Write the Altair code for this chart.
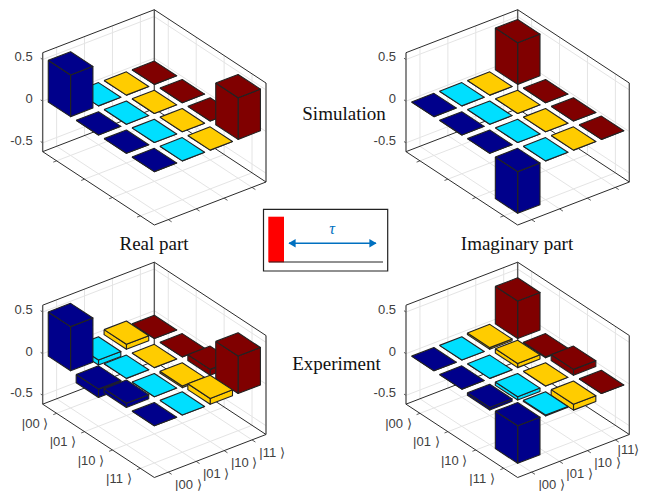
import altair as alt
import pandas as pd

# bar heights: rows |00>..|11>, columns |00>..|11>
real_sim = [[0.5, 0, 0, 0], [0, 0, 0, 0], [0, 0, 0, 0], [0, 0, 0, 0.5]]
imag_sim = [[0, 0, 0, 0.5], [0, 0, 0, 0], [0, 0, 0, 0], [-0.5, 0, 0, 0]]
real_exp = [[0.53, -0.06, 0.06, 0], [-0.1, 0, 0, 0], [0.05, 0, -0.02, 0.07], [0, 0, 0.07, 0.45]]
imag_exp = [[0, 0, 0.02, 0.45], [0, 0, 0.05, -0.01], [-0.03, -0.04, 0, 0.07], [-0.45, -0.01, -0.07, 0]]
column_colors = ["#00008b", "#00dfff", "#ffcc00", "#800000"]
ket_labels = ["|00 ⟩", "|01 ⟩", "|10 ⟩", "|11 ⟩"]
z_ticks = [0.5, 0, -0.5]
z_labels = ["0.5", "0", "-0.5"]
positions = [0.125, 0.375, 0.625, 0.875]
BAR = 0.2
ZMIN, ZMAX = -0.6056, 0.582


def projector(dx, dy, base=0.0):
    def p(a, b, z):
        return (128 / 3 + dx + (a * 335 + b * 335) / 3,
                (303.6 + a * 220 - b * 129 - (z + base) * 250) / 3 + dy)
    return p


panels = [
    (real_sim, 0, 0, 0.0, False),
    (imag_sim, 363.33, 0, 0.0, False),
    (real_exp, 0, 252.5, -0.02, True),
    (imag_exp, 363.33, 252.5, -0.02, True),
]

grid, dark, thick, ticks, polys = [], [], [], [], []
tick_txt, ket_txt = [], []
uid = 0


def add(rows, pts, **extra):
    global uid
    uid += 1
    for i, (x, y) in enumerate(pts):
        rows.append(dict(pid=uid, i=i, x=x, y=y, **extra))


for values, dx, dy, base, labelled in panels:
    p = projector(dx, dy)
    q = projector(dx, dy, base)
    for t in positions:
        add(grid, [p(0, t, ZMIN), p(0, t, ZMAX)])
        add(grid, [p(t, 1, ZMIN), p(t, 1, ZMAX)])
        add(grid, [p(t, 0, ZMIN), p(t, 1, ZMIN)])
        add(grid, [p(0, t, ZMIN), p(1, t, ZMIN)])
        add(ticks, [p(t, 0, ZMIN), p(t, -0.03, ZMIN)])
        add(ticks, [p(1, t, ZMIN), p(1.03, t, ZMIN)])
    for z, lab in zip(z_ticks, z_labels):
        add(grid, [p(0, 0, z), p(0, 1, z)])
        add(grid, [p(0, 1, z), p(1, 1, z)])
        add(ticks, [p(0, 0, z), p(-0.018, 0.0, z)])
        x, y = p(0, 0, z)
        tick_txt.append(dict(t=lab, x=x - 10, y=y - 2.2))
    add(dark, [p(0, 0, ZMAX), p(0, 1, ZMAX), p(1, 1, ZMAX)])
    add(dark, [p(0, 0, ZMIN), p(1, 0, ZMIN), p(1, 1, ZMIN)])
    add(dark, [p(0, 0, ZMIN), p(0, 1, ZMIN), p(1, 1, ZMIN)])
    add(thick, [p(0, 0, ZMIN), p(0, 0, ZMAX)])
    add(thick, [p(0, 1, ZMIN), p(0, 1, ZMAX)])
    add(thick, [p(1, 1, ZMIN), p(1, 1, ZMAX)])
    if labelled:
        for k, t in enumerate(positions):
            x, y = p(t, 0, ZMIN)
            ket_txt.append(dict(t=ket_labels[k], x=x - 21.6, y=y + 10.7))
            x, y = p(1, t, ZMIN)
            if x + 20 > 625:
                # the window ends at x = 640, so this label sits just inside it
                ket_txt.append(dict(t=ket_labels[k].replace(" ", ""), x=628.5, y=y + 10))
            else:
                ket_txt.append(dict(t=ket_labels[k], x=x + 20, y=y + 12.7))
    for r in range(4):
        for c in range(3, -1, -1):
            v = values[r][c]
            top, bot = max(v, 0), min(v, 0)
            a0, a1 = positions[r] - BAR / 2, positions[r] + BAR / 2
            b0, b1 = positions[c] - BAR / 2, positions[c] + BAR / 2
            col = column_colors[c]
            add(polys, [q(a1, b0, top), q(a1, b1, top), q(a1, b1, bot), q(a1, b0, bot), q(a1, b0, top)], fill=col)
            add(polys, [q(a0, b0, top), q(a1, b0, top), q(a1, b0, bot), q(a0, b0, bot), q(a0, b0, top)], fill=col)
            add(polys, [q(a0, b0, top), q(a0, b1, top), q(a1, b1, top), q(a1, b0, top), q(a0, b0, top)], fill=col)

X = alt.X("x:Q", scale=alt.Scale(domain=[8, 640], range=[0, 632]), axis=None)
Y = alt.Y("y:Q", scale=alt.Scale(domain=[491, 8], range=[483, 0]), axis=None)
ORDER = alt.Order("i:Q")


def lines(rows, color, width):
    return alt.Chart(pd.DataFrame(rows)).mark_line(color=color, strokeWidth=width, clip=False).encode(
        x=X, y=Y, detail="pid:N", order=ORDER)


poly_layer = alt.Chart(pd.DataFrame(polys)).mark_line(
    stroke="#222222", strokeWidth=1.1, strokeJoin="round").encode(
    x=X, y=Y, detail="pid:N", order=ORDER, fill=alt.Fill("fill:N", scale=None, legend=None))


def text_layer(rows, **kw):
    return alt.Chart(pd.DataFrame(rows)).mark_text(baseline="middle", **kw).encode(x=X, y=Y, text="t:N")


tick_layer = text_layer(tick_txt, align="right", font="Liberation Sans", fontSize=13, color="#404040")
ket_layer = text_layer(ket_txt, align="center", font="Liberation Sans", fontSize=13, color="#404040")
title_layer = text_layer(
    [dict(t="Real part", x=154, y=244), dict(t="Imaginary part", x=517, y=244),
     dict(t="Simulation", x=344, y=114), dict(t="Experiment", x=336.5, y=364)],
    align="center", font="Liberation Serif", fontSize=19, color="#111111")

# inset: pulse and delay
box = pd.DataFrame([dict(x=263.5, x2=387.7, y=209.3, y2=271)])
box_layer = alt.Chart(box).mark_rect(fill="white", stroke="#222222", strokeWidth=1.2).encode(
    x=X, x2="x2:Q", y=Y, y2="y2:Q")
pulse = pd.DataFrame([dict(x=268.3, x2=284, y=216.7, y2=262.3)])
pulse_layer = alt.Chart(pulse).mark_rect(fill="#ff0000").encode(x=X, x2="x2:Q", y=Y, y2="y2:Q")
base_line = lines([dict(pid=0, i=0, x=269, y=262), dict(pid=0, i=1, x=383, y=262)], "#222222", 1)
arrow_line = lines([dict(pid=0, i=0, x=289, y=243.3), dict(pid=0, i=1, x=376, y=243.3)], "#0070c0", 1.5)
heads = alt.Chart(pd.DataFrame([dict(x=292, y=243.3, s="triangle-left"), dict(x=373, y=243.3, s="triangle-right")])).mark_point(
    filled=True, color="#0070c0", size=70, opacity=1).encode(x=X, y=Y, shape=alt.Shape("s:N", scale=None, legend=None))
tau = text_layer([dict(t="τ", x=332, y=229)], align="center", font="Liberation Serif", fontStyle="italic",
                 fontSize=16, color="#0070c0")

chart = alt.layer(
    lines(grid, "#e4e4e4", 1), lines(ticks, "#333333", 0.8), lines(thick, "#5a5a5a", 1.4), lines(dark, "#2b2b2b", 1),
    poly_layer, tick_layer, ket_layer, title_layer, box_layer, pulse_layer, base_line, arrow_line, heads, tau,
).properties(width=632, height=483, padding=0, autosize=alt.AutoSizeParams(type="none")).configure_view(stroke=None)

chart.save("out.html", embed_options={"renderer": "svg", "actions": False})
